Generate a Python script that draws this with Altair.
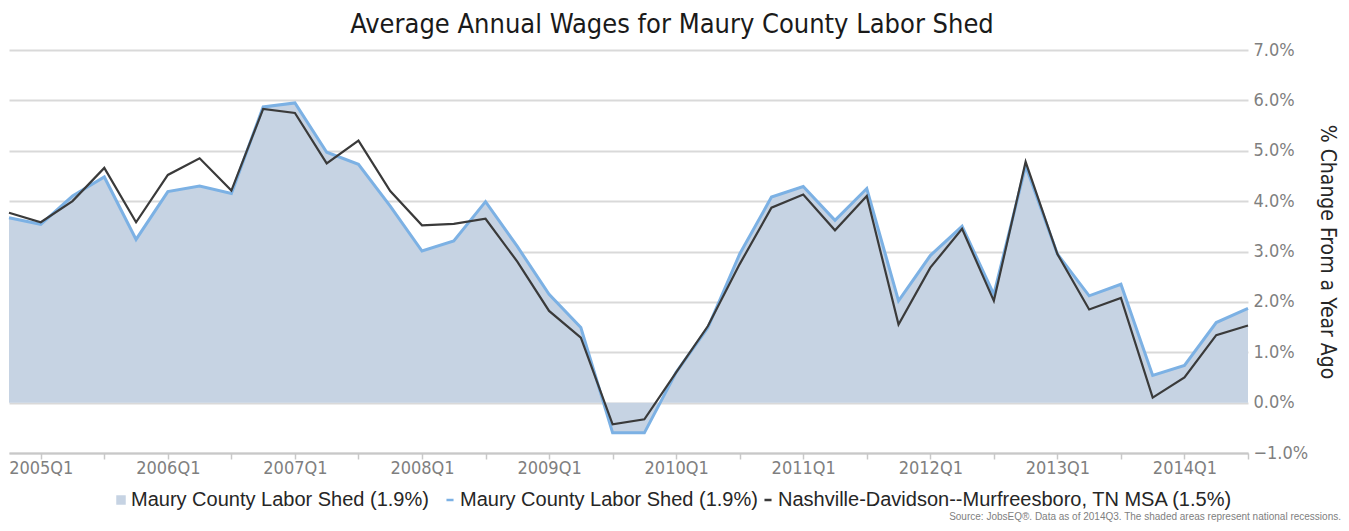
import altair as alt
import pandas as pd

quarters = [
    "2004Q4",
    "2005Q1", "2005Q2", "2005Q3", "2005Q4",
    "2006Q1", "2006Q2", "2006Q3", "2006Q4",
    "2007Q1", "2007Q2", "2007Q3", "2007Q4",
    "2008Q1", "2008Q2", "2008Q3", "2008Q4",
    "2009Q1", "2009Q2", "2009Q3", "2009Q4",
    "2010Q1", "2010Q2", "2010Q3", "2010Q4",
    "2011Q1", "2011Q2", "2011Q3", "2011Q4",
    "2012Q1", "2012Q2", "2012Q3", "2012Q4",
    "2013Q1", "2013Q2", "2013Q3", "2013Q4",
    "2014Q1", "2014Q2", "2014Q3",
]
maury = [3.67, 3.54, 4.10, 4.48, 3.24, 4.19, 4.30, 4.15, 5.87, 5.95,
         4.97, 4.73, 3.90, 3.01, 3.21, 3.99, 3.10, 2.15, 1.49, -0.60,
         -0.60, 0.60, 1.49, 2.95, 4.08, 4.29, 3.62, 4.25, 2.02, 2.92,
         3.50, 2.15, 4.70, 2.95, 2.12, 2.35, 0.54, 0.74, 1.59, 1.87]
nashville = [3.77, 3.58, 4.00, 4.66, 3.58, 4.52, 4.85, 4.21, 5.83, 5.75,
             4.75, 5.20, 4.20, 3.52, 3.55, 3.65, 2.80, 1.82, 1.29, -0.43,
             -0.33, 0.60, 1.52, 2.75, 3.87, 4.13, 3.42, 4.10, 1.55, 2.68,
             3.45, 2.02, 4.78, 2.95, 1.85, 2.08, 0.10, 0.50, 1.34, 1.53]

maury_label = "Maury County Labor Shed (1.9%)"
nash_label = "Nashville-Davidson--Murfreesboro, TN MSA (1.5%)"
chart_title = "Average Annual Wages for Maury County Labor Shed"
y_title = "% Change From a Year Ago"
source_note = "Source: JobsEQ®. Data as of 2014Q3. The shaded areas represent national recessions."
y_ticks = [-1, 0, 1, 2, 3, 4, 5, 6, 7]
x_ticks = [q for q in quarters if q[-2:] in ("Q1", "Q3")]

area_df = pd.DataFrame({"quarter": quarters, "value": maury,
                        "series": [maury_label] * len(quarters)})
line_df = pd.DataFrame({
    "quarter": quarters * 2,
    "value": maury + nashville,
    "series": [maury_label] * len(quarters) + [nash_label] * len(quarters),
})
note_df = pd.DataFrame({"note": [source_note]})

FONT = "DejaVu Sans Condensed"
LFONT = "Liberation Sans"

x_enc = alt.X(
    "quarter:O", sort=quarters,
    scale=alt.Scale(type="point", padding=0),
    axis=alt.Axis(
        title=None, values=x_ticks,
        labelExpr="slice(datum.value, 4) == 'Q1' ? datum.value : ''",
        labelAngle=0, labelFont=FONT, labelFontSize=18, labelColor="#7f7f7f",
        domainColor="#c8c8c8", domainWidth=2, tickColor="#c8c8c8",
        tickSize=6, tickWidth=1.5, labelPadding=0, grid=False,
    ),
)
y_enc = alt.Y(
    "value:Q",
    scale=alt.Scale(domain=[-1, 7], nice=False, zero=False),
    axis=alt.Axis(
        orient="right", values=y_ticks,
        labelExpr="format(datum.value, '.1f') + '%'",
        labelFont=FONT, labelFontSize=18, labelColor="#7f7f7f", labelPadding=5,
        domain=False, ticks=False, grid=True, gridColor="#d9d9d9", gridWidth=2,
        title=y_title, titleAngle=90, titleFont=FONT, titleFontSize=21,
        titleFontWeight="normal", titleColor="#262626", titlePadding=9,
    ),
)

area = alt.Chart(area_df).mark_area(opacity=1).encode(
    x=x_enc, y=y_enc,
    color=alt.Color(
        "series:N",
        scale=alt.Scale(domain=[maury_label], range=["#c6d3e3"]),
        legend=alt.Legend(
            orient="none", legendX=102, legendY=440, title=None,
            symbolType="square", symbolSize=90, symbolStrokeWidth=0,
            labelFont=LFONT, labelFontSize=20, labelColor="#262626",
            labelOffset=0, labelLimit=0, padding=0, direction="horizontal",
        ),
    ),
)

lines = alt.Chart(line_df).mark_line().encode(
    x=x_enc, y=y_enc,
    color=alt.Color(
        "series:N",
        scale=alt.Scale(domain=[maury_label, nash_label],
                        range=["#7cb1e4", "#3a3a3a"]),
        legend=alt.Legend(
            orient="none", legendX=431, legendY=440, title=None,
            symbolType="stroke", symbolSize=50, symbolStrokeWidth=2.5,
            labelFont=LFONT, labelFontSize=20, labelColor="#262626",
            labelOffset=0, labelLimit=0, padding=0, direction="horizontal",
            columnPadding=0,
        ),
    ),
    strokeWidth=alt.StrokeWidth(
        "series:N",
        scale=alt.Scale(domain=[maury_label, nash_label], range=[3, 2.2]),
        legend=None,
    ),
)

note = alt.Chart(note_df).mark_text(
    align="right", baseline="middle", font=LFONT, fontSize=10, color="#808080"
).encode(text="note:N", x=alt.value(1332), y=alt.value(467))

chart = alt.layer(area, lines, note).resolve_scale(
    color="independent"
).properties(
    width=1239, height=403,
    title=alt.TitleParams(
        chart_title, font=FONT, fontSize=27, fontWeight="normal",
        color="#1a1a1a", anchor="middle", frame="bounds", offset=2,
    ),
    autosize=alt.AutoSizeParams(type="none"),
    padding={"left": 1, "top": 42, "right": 93, "bottom": 69},
).configure_view(stroke=None)

chart.save("out.html", embed_options={"renderer": "svg", "actions": False})
